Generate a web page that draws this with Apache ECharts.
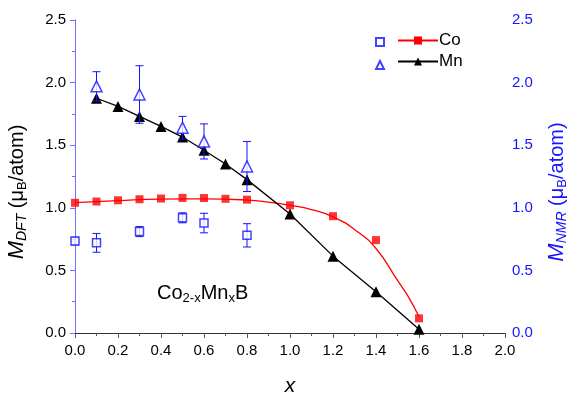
<!DOCTYPE html>
<html>
<head>
<meta charset="utf-8">
<script src="https://cdn.jsdelivr.net/npm/echarts@6/dist/echarts.min.js"></script>
<style>
  html, body { margin: 0; padding: 0; background: #fff; }
  #chart { width: 579px; height: 396px; }
</style>
</head>
<body>
<div id="chart"></div>
<script>
// DFT moments
var dftX = [0, 0.1, 0.2, 0.3, 0.4, 0.5, 0.6, 0.7, 0.8, 1.0, 1.2, 1.4, 1.6];
var coDft = [1.04, 1.05, 1.06, 1.068, 1.074, 1.079, 1.078, 1.072, 1.065, 1.02, 0.933, 0.742, 0.117];
var mnDftX = [0.1, 0.2, 0.3, 0.4, 0.5, 0.6, 0.7, 0.8, 1.0, 1.2, 1.4, 1.6];
var mnDft = [1.875, 1.81, 1.73, 1.65, 1.565, 1.46, 1.35, 1.225, 0.95, 0.614, 0.33, 0.03];
// fitted curve through the Co DFT points
var coFitX = [0, 0.2, 0.4, 0.6, 0.8, 0.9, 1.0, 1.1, 1.2, 1.3, 1.4, 1.5, 1.55, 1.6];
var coFit = [1.042, 1.058, 1.07, 1.072, 1.062, 1.045, 1.02, 0.986, 0.928, 0.827, 0.675, 0.42, 0.29, 0.13];
// NMR moments with error bars
var coNmrX = [0, 0.1, 0.3, 0.5, 0.6, 0.8];
var coNmr = [0.734, 0.72, 0.81, 0.92, 0.878, 0.78];
var coNmrErr = [0.03, 0.075, 0.04, 0.04, 0.078, 0.093];
var mnNmrX = [0.1, 0.3, 0.5, 0.6, 0.8];
var mnNmr = [1.97, 1.905, 1.64, 1.53, 1.33];
var mnNmrErr = [0.117, 0.23, 0.09, 0.14, 0.2];

var blue = '#1414ff';
var font = 'Liberation Sans, Arial, sans-serif';

function pairs(xs, ys) {
  var out = [];
  for (var i = 0; i < xs.length; i++) out.push([xs[i], ys[i]]);
  return out;
}
function errData(xs, ys, es) {
  var out = [];
  for (var i = 0; i < xs.length; i++) out.push([xs[i], ys[i] - es[i], ys[i] + es[i]]);
  return out;
}
function errBar(params, api) {
  var lo = api.coord([api.value(0), api.value(1)]);
  var hi = api.coord([api.value(0), api.value(2)]);
  var w = 4;
  var st = { stroke: blue, lineWidth: 1 };
  return {
    type: 'group',
    children: [
      { type: 'line', shape: { x1: lo[0], y1: lo[1], x2: hi[0], y2: hi[1] }, style: st },
      { type: 'line', shape: { x1: lo[0] - w, y1: lo[1], x2: lo[0] + w, y2: lo[1] }, style: st },
      { type: 'line', shape: { x1: hi[0] - w, y1: hi[1], x2: hi[0] + w, y2: hi[1] }, style: st }
    ]
  };
}
// rotated axis title, drawn as text
function axisTitle(x, sub, color) {
  return {
    type: 'text', x: x, y: 192, rotation: Math.PI / 2,
    style: {
      text: '{m|M}{ms|' + sub + '}{t| (μ}{s|B}{t|/atom)}',
      align: 'center', verticalAlign: 'middle',
      rich: {
        m: { fontSize: 22, fontStyle: 'italic', fontFamily: font, fill: color },
        ms: { fontSize: 14, fontStyle: 'italic', fontFamily: font, fill: color, padding: [10, 0, 0, 0] },
        t: { fontSize: 20, fontFamily: font, fill: color },
        s: { fontSize: 13, fontFamily: font, fill: color, padding: [10, 0, 0, 0] }
      }
    }
  };
}

var chart = echarts.init(document.getElementById('chart'));

var option = {
  animation: false,
  textStyle: { fontFamily: font },
  grid: { left: 75, right: 74, top: 20, bottom: 63, outerBoundsMode: 'none' },
  legend: [{
    data: ['Co NMR', 'Mn NMR'],
    orient: 'vertical',
    left: 370, top: 32,
    itemWidth: 8, itemHeight: 8, itemGap: 13,
    formatter: function () { return ''; }
  }, {
    data: ['Co', 'Mn'],
    orient: 'vertical',
    left: 392, top: 27,
    itemWidth: 40, itemHeight: 10, itemGap: 4,
    textStyle: { fontSize: 17, color: '#000', fontFamily: font, padding: [0, 0, 0, -4] }
  }],
  xAxis: [{
    type: 'value', min: 0, max: 2, interval: 0.2,
    name: 'x', nameLocation: 'middle', nameGap: 43,
    nameTextStyle: { fontSize: 21, fontStyle: 'italic', color: '#000' },
    axisLine: { lineStyle: { color: '#777' } },
    axisTick: { length: 5, lineStyle: { color: '#555' } },
    minorTick: { show: true, splitNumber: 2, length: 3, lineStyle: { color: '#555' } },
    splitLine: { show: false },
    axisLabel: { fontSize: 15, color: '#000', margin: 10, formatter: function (v) { return v.toFixed(1); } }
  }, {
    type: 'value', min: 0, max: 2, position: 'top',
    axisLine: { show: true, lineStyle: { color: '#333' } },
    axisTick: { show: false }, axisLabel: { show: false }, splitLine: { show: false }
  }],
  yAxis: [{
    type: 'value', min: 0, max: 2.5, interval: 0.5,
    axisLine: { show: true, lineStyle: { color: '#888' } },
    axisTick: { show: true, length: 5, lineStyle: { color: '#555' } },
    minorTick: { show: true, splitNumber: 2, length: 3, lineStyle: { color: '#555' } },
    splitLine: { show: false },
    axisLabel: { fontSize: 15, color: '#000', margin: 9, formatter: function (v) { return v.toFixed(1); } }
  }, {
    type: 'value', min: 0, max: 2.5, interval: 0.5, position: 'right',
    axisLine: { show: true, lineStyle: { color: '#7070ff' } },
    axisTick: { show: true, inside: true, length: 5, lineStyle: { color: '#7070ff' } },
    minorTick: { show: true, splitNumber: 2, length: 3, lineStyle: { color: '#7070ff' } },
    splitLine: { show: false },
    axisLabel: { fontSize: 15, color: blue, margin: 7, formatter: function (v) { return v.toFixed(1); } }
  }],
  graphic: [axisTitle(17, 'DFT', '#000'), axisTitle(557, 'NMR', blue), {
    type: 'text', left: 157, top: 283,
    style: {
      text: '{a|Co}{b|2-x}{a|Mn}{b|x}{a|B}',
      rich: {
        a: { fontSize: 20, fontFamily: font, fill: '#000' },
        b: { fontSize: 13, fontFamily: font, fill: '#000', padding: [11, 0, 0, 0] }
      }
    }
  }],
  series: [{
    name: 'Co', type: 'line', data: pairs(coFitX, coFit), smooth: true,
    symbol: 'rect', symbolSize: 8, showSymbol: false,
    itemStyle: { color: '#ff0000' }, lineStyle: { color: '#ff0000', width: 1.3 }, z: 2
  }, {
    name: 'Co pts', type: 'scatter', data: pairs(dftX, coDft),
    symbol: 'rect', symbolSize: 8, itemStyle: { color: '#ff0000' }, z: 3
  }, {
    name: 'Mn', type: 'line', data: pairs(mnDftX, mnDft),
    symbol: 'triangle', symbolSize: 11, showAllSymbol: true,
    itemStyle: { color: '#000' }, lineStyle: { color: '#000', width: 1.3 }, z: 3
  }, {
    name: 'Co err', type: 'custom', yAxisIndex: 1, renderItem: errBar,
    data: errData(coNmrX, coNmr, coNmrErr), z: 4
  }, {
    name: 'Mn err', type: 'custom', yAxisIndex: 1, renderItem: errBar,
    data: errData(mnNmrX, mnNmr, mnNmrErr), z: 4
  }, {
    name: 'Co NMR', type: 'scatter', yAxisIndex: 1, data: pairs(coNmrX, coNmr),
    symbol: 'rect', symbolSize: 8,
    itemStyle: { color: '#fff', borderColor: blue, borderWidth: 1.5 }, z: 5
  }, {
    name: 'Mn NMR', type: 'scatter', yAxisIndex: 1, data: pairs(mnNmrX, mnNmr),
    symbol: 'triangle', symbolSize: 11,
    itemStyle: { color: '#fff', borderColor: blue, borderWidth: 1.5 }, z: 5
  }]
};
chart.setOption(option);
</script>
</body>
</html>
